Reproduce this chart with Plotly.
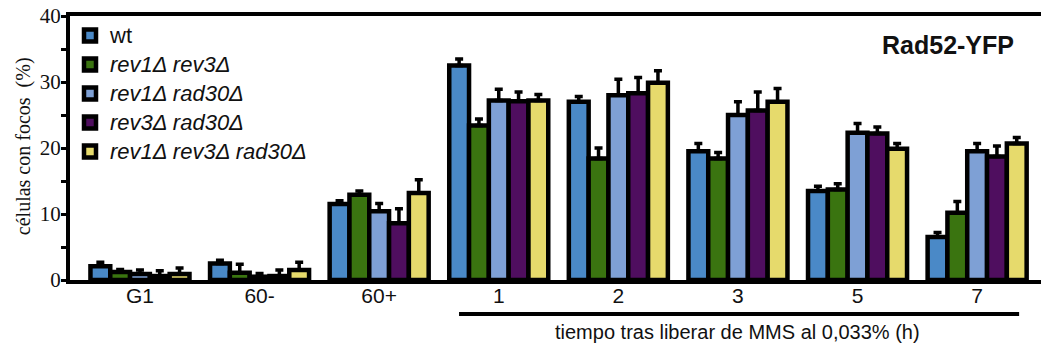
import plotly.graph_objects as go

# Grupos de tiempo (eje x)
categorias = ["G1", "60-", "60+", "1", "2", "3", "5", "7"]

# Porcentaje de células con focos de Rad52-YFP por cepa
wt = [2.1, 2.5, 11.5, 32.5, 27.0, 19.5, 13.5, 6.5]
rev1_rev3 = [1.2, 1.1, 12.9, 23.4, 18.4, 18.4, 13.7, 10.2]
rev1_rad30 = [0.9, 0.5, 10.4, 27.2, 28.0, 25.0, 22.3, 19.5]
rev3_rad30 = [0.6, 0.6, 8.6, 27.1, 28.3, 25.7, 22.2, 18.7]
rev1_rev3_rad30 = [0.9, 1.5, 13.2, 27.2, 29.9, 27.0, 19.9, 20.7]

# Error (desviación) de cada barra
err_wt = [0.6, 0.5, 0.5, 1.0, 0.8, 1.2, 0.7, 0.7]
err_rev1_rev3 = [0.4, 1.3, 0.6, 1.0, 1.6, 0.9, 0.9, 1.7]
err_rev1_rad30 = [0.6, 0.5, 1.2, 1.7, 2.4, 2.0, 1.4, 1.2]
err_rev3_rad30 = [0.8, 0.9, 2.2, 1.4, 2.4, 2.8, 1.0, 1.6]
err_rev1_rev3_rad30 = [0.9, 1.2, 2.0, 0.9, 1.8, 2.0, 0.8, 0.9]

# Etiquetas de la leyenda (texto algo mayor que el interlineado base)
LEG = '<span style="font-size:22px">{}</span>'

series = [
    (LEG.format("wt"), wt, err_wt, "#4a89c7"),
    (LEG.format("<i>rev1Δ rev3Δ</i>"), rev1_rev3, err_rev1_rev3, "#3a7410"),
    (LEG.format("<i>rev1Δ rad30Δ</i>"), rev1_rad30, err_rev1_rad30, "#7ea0d5"),
    (LEG.format("<i>rev3Δ rad30Δ</i>"), rev3_rad30, err_rev3_rad30, "#4f0e5f"),
    (LEG.format("<i>rev1Δ rev3Δ rad30Δ</i>"), rev1_rev3_rad30, err_rev1_rev3_rad30, "#e6da6c"),
]

SANS = "Liberation Sans, Arial, sans-serif"
SERIF = "Liberation Serif, Times New Roman, serif"

fig = go.Figure()
for name, vals, errs, color in series:
    fig.add_trace(go.Bar(
        x=categorias,
        y=vals,
        name=name,
        marker=dict(color=color, line=dict(color="black", width=4.5)),
        error_y=dict(
            type="data",
            array=errs,
            arrayminus=[0] * len(errs),
            symmetric=False,
            color="black",
            thickness=3.5,
            width=4,
        ),
    ))

fig.update_layout(
    width=1041,
    height=347,
    margin=dict(l=70, r=0, t=16, b=67),
    paper_bgcolor="white",
    plot_bgcolor="white",
    barmode="group",
    bargap=0.172,
    bargroupgap=0,
    showlegend=True,
    legend=dict(
        x=0.0, y=1.0, xanchor="left", yanchor="top",
        bgcolor="rgba(0,0,0,0)",
        font=dict(family=SANS, size=20, color="#111"),
        traceorder="normal",
    ),
    xaxis=dict(
        type="category",
        range=[-0.585, 7.534],
        showline=True, linewidth=4, linecolor="black", mirror=True,
        ticks="", showgrid=False, zeroline=False,
        tickfont=dict(family=SANS, size=21, color="#111"),
        ticklabelstandoff=-6,
    ),
    yaxis=dict(
        range=[0, 40],
        tickvals=[0, 10, 20, 30, 40],
        ticks="outside", ticklen=5, tickwidth=3, tickcolor="black",
        minor=dict(dtick=5, ticks="outside", ticklen=5, tickwidth=3, tickcolor="black"),
        showline=True, linewidth=4, linecolor="black",
        showgrid=False, zeroline=False,
        tickfont=dict(family=SERIF, size=21, color="#111"),
        ticklabelstandoff=-4,
    ),
)

fig.add_annotation(
    text="<b>Rad52-YFP</b>", xref="paper", yref="paper",
    x=0.9743, y=0.889, xanchor="right", yanchor="middle",
    showarrow=False, font=dict(family=SANS, size=25, color="#111"),
)
fig.add_annotation(
    text="células con focos  (%)", xref="paper", yref="paper",
    x=-0.0484, y=0.507, xanchor="center", yanchor="middle", textangle=-90,
    showarrow=False, font=dict(family=SERIF, size=20, color="#111"),
)
fig.add_annotation(
    text="tiempo tras liberar de MMS al 0,033% (h)", xref="x", yref="paper",
    x=5.0, y=-0.197, xanchor="center", yanchor="middle",
    showarrow=False, font=dict(family=SANS, size=20, color="#111"),
)
fig.add_shape(
    type="line", xref="x", yref="paper",
    x0=2.668, x1=7.351, y0=-0.1286, y1=-0.1286,
    line=dict(color="black", width=4),
)

fig.write_html("out.html")
